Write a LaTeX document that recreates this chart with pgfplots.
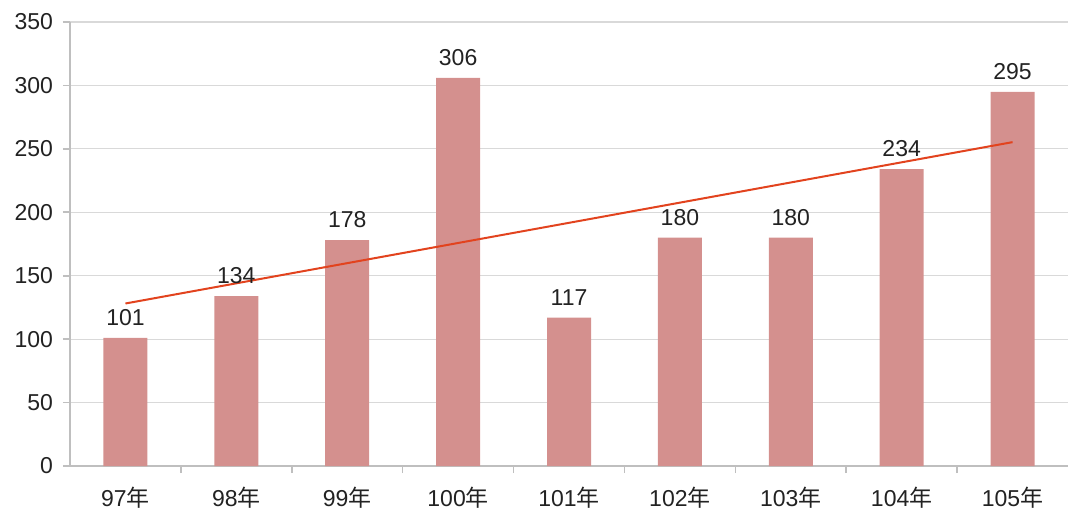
\documentclass[border=0pt]{standalone}
\usepackage{pgfplots}
\pgfplotsset{compat=1.18}
\usepackage{fontspec}
\setmainfont{Liberation Sans}
\newfontfamily\cjk{Noto Sans CJK TC}
\definecolor{barc}{HTML}{D4908E}
\definecolor{trend}{HTML}{E2431E}
\definecolor{gridc}{HTML}{D9D9D9}
\definecolor{axc}{HTML}{BFBFBF}
\definecolor{txt}{HTML}{222222}
\begin{document}
\fontsize{11.5}{13}\selectfont
\begin{tikzpicture}
\begin{axis}[name=ax,
  scale only axis, width=499pt, height=222pt,
  xmin=-0.5, xmax=8.5, ymin=0, ymax=350,
  xtick={0,...,8},
  xticklabels={97{\cjk 年},98{\cjk 年},99{\cjk 年},100{\cjk 年},101{\cjk 年},102{\cjk 年},103{\cjk 年},104{\cjk 年},105{\cjk 年}},
  minor xtick={0.5,1.5,...,7.5},
  ytick={0,50,...,350},
  ymajorgrids, major grid style={gridc, line width=0.6pt},
  axis x line*=bottom, axis y line*=left,
  axis line style={axc, line width=0.8pt},
  every tick/.style={axc, line width=0.8pt},
  major x tick style={draw=none},
  tick align=outside, major tick length=3.5pt, minor tick length=3.5pt,
  x tick label style={font=\fontsize{11.5}{13}\selectfont, text=txt, yshift=-3pt},
  y tick label style={font=\fontsize{11.5}{13}\selectfont, text=txt, xshift=-1pt},
  /pgf/number format/assume math mode=true,
  clip=false,
]
\addplot[ybar, bar width=22pt, fill=barc, draw=none,
  nodes near coords, every node near coord/.append style={text=txt, font=\fontsize{11.5}{13}\selectfont, yshift=2pt}]
  coordinates {(0,101) (1,134) (2,178) (3,306) (4,117) (5,180) (6,180) (7,234) (8,295)};
\addplot[trend, line width=1pt] coordinates {(0,128.1) (8,255.3)};
\end{axis}
\pgfresetboundingbox
\path[use as bounding box] ([shift={(-35pt,-26pt)}]ax.south west) rectangle ([shift={(0pt,11pt)}]ax.north east);
\end{tikzpicture}
\end{document}
